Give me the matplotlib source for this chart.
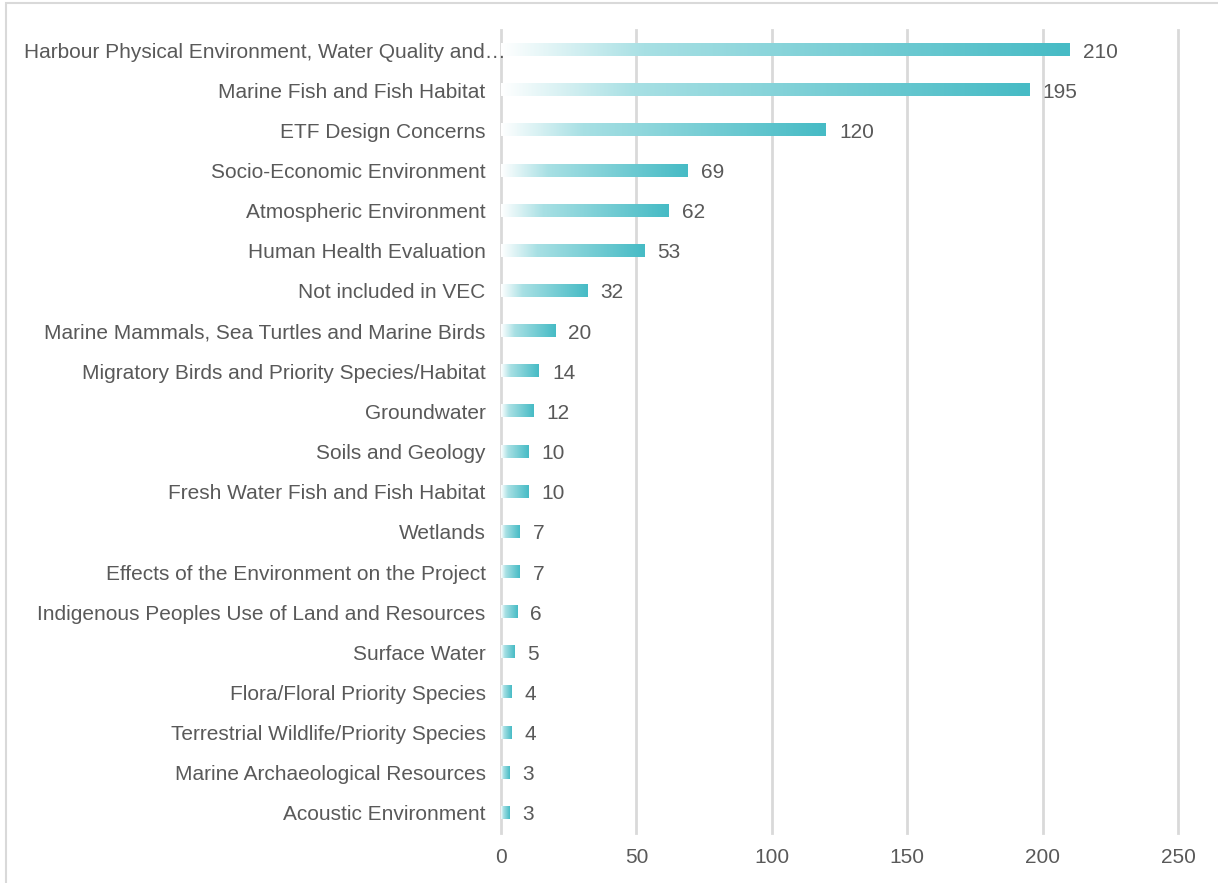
import numpy as np
import matplotlib
matplotlib.use("Agg")
import matplotlib.pyplot as plt
from matplotlib.colors import LinearSegmentedColormap
from matplotlib.patches import Rectangle

plt.rcParams['font.family'] = ['Liberation Sans', 'DejaVu Sans']

categories = [
    "Harbour Physical Environment, Water Quality and\u2026",
    "Marine Fish and Fish Habitat",
    "ETF Design Concerns",
    "Socio-Economic Environment",
    "Atmospheric Environment",
    "Human Health Evaluation",
    "Not included in VEC",
    "Marine Mammals, Sea Turtles and Marine Birds",
    "Migratory Birds and Priority Species/Habitat",
    "Groundwater",
    "Soils and Geology",
    "Fresh Water Fish and Fish Habitat",
    "Wetlands",
    "Effects of the Environment on the Project",
    "Indigenous Peoples Use of Land and Resources",
    "Surface Water",
    "Flora/Floral Priority Species",
    "Terrestrial Wildlife/Priority Species",
    "Marine Archaeological Resources",
    "Acoustic Environment",
]
counts = [210, 195, 120, 69, 62, 53, 32, 20, 14, 12, 10, 10, 7, 7, 6, 5, 4, 4, 3, 3]
xticks = [0, 50, 100, 150, 200, 250]

text_col = "#595959"
grid_col = "#D9D9D9"
fs = 15
cmap = LinearSegmentedColormap.from_list(
    "tealfade", [(0.0, "#FFFFFF"), (0.25, "#A8E0E4"), (1.0, "#46BBC5")])

fig = plt.figure(figsize=(12.18, 8.83), dpi=100)
ax = fig.add_axes([501 / 1218, 1 - 833 / 883, 677 / 1218, 803 / 883])

bar_h = 0.3
grad = np.linspace(0, 1, 256).reshape(1, -1)
for i, v in enumerate(counts):
    ax.imshow(grad, cmap=cmap, aspect="auto", interpolation="bicubic",
              extent=[0, v, i + bar_h / 2, i - bar_h / 2], zorder=3)
    ax.text(v + 4.8, i, str(v), va="center_baseline", ha="left",
            fontsize=fs, color=text_col)

ax.set_xlim(0, 250)
ax.set_ylim(len(counts) - 0.5, -0.5)
ax.set_yticks(range(len(counts)))
# the truncated first label sits further right, as in the original
ax.set_yticklabels([""] + categories[1:], fontsize=fs, color=text_col)
ax.annotate(categories[0], xy=(0, 0), xycoords=("axes fraction", "data"),
            xytext=(3, 0), textcoords="offset points", ha="right",
            va="center_baseline", fontsize=fs, color=text_col)
ax.set_xticks(xticks)
ax.set_xticklabels([str(t) for t in xticks], fontsize=fs, color=text_col)
ax.tick_params(axis="y", length=0, pad=11)
ax.tick_params(axis="x", length=0, pad=11)
for s in ax.spines.values():
    s.set_visible(False)
for t in xticks:
    ax.axvline(t, color=grid_col, lw=2, zorder=1, clip_on=False)

fig.patches.append(Rectangle((6 / 1218, -0.01), 1.02, 1 - 3 / 883 + 0.01,
                             transform=fig.transFigure, fill=False,
                             edgecolor="#D9D9D9", lw=1.5))

fig.savefig("out.png", dpi=100)
